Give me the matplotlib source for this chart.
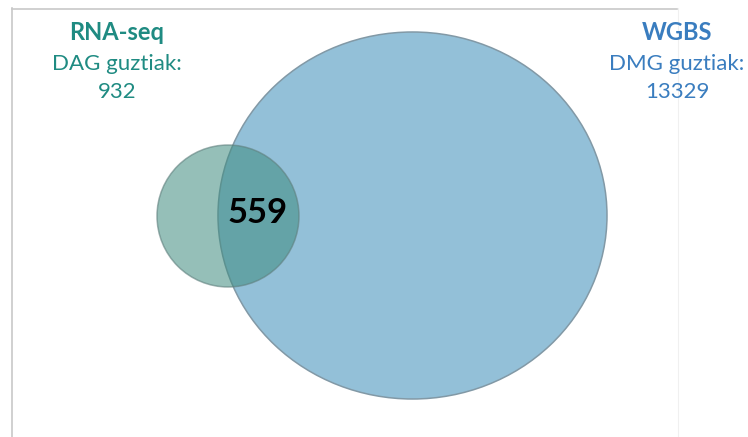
import matplotlib
matplotlib.use("Agg")
import matplotlib.pyplot as plt
from matplotlib.patches import Ellipse

# set labels and counts
set_titles = ["RNA-seq", "WGBS"]
set_subtitles = ["DAG guztiak:", "DMG guztiak:"]
set_totals = [932, 13329]
overlap_count = 559

plt.rcParams['font.family'] = ['Lato', 'DejaVu Sans']

fig = plt.figure(figsize=(7.48, 4.37), dpi=100)
ax = fig.add_axes([0, 0, 1, 1])
ax.set_xlim(0, 748)
ax.set_ylim(437, 0)
ax.axis('off')

# frame lines (light gray)
ax.plot([12, 677], [8.5, 8.5], color='#c8c8c8', lw=1.2)
ax.plot([12.5, 12.5], [8, 437], color='#c8c8c8', lw=1.2)
ax.plot([678, 678], [8, 437], color='#f0f0f0', lw=0.8)

# big circle (WGBS) and small circle (RNA-seq)
big = Ellipse((412.5, 215.5), 389, 367, facecolor='#93c0d8', edgecolor='#8299a6', lw=1.1, zorder=2)
ax.add_patch(big)
small = Ellipse((228, 216), 142, 142, facecolor='#3e8c7f', alpha=0.55, edgecolor='none', zorder=3)
ax.add_patch(small)
small_edge = Ellipse((228, 216), 142, 142, facecolor='none', edgecolor='#5f7f7d', alpha=0.6, lw=1.1, zorder=4)
ax.add_patch(small_edge)

ax.text(258, 213, str(overlap_count), ha='center', va='center', fontsize=25,
        fontweight='bold', color='black', zorder=5)

colors = ['#1f8b82', '#3a7dbf']
xs = [117, 677]
for x, t, s, n, c in zip(xs, set_titles, set_subtitles, set_totals, colors):
    ax.text(x, 33, t, ha='center', va='center', fontsize=17, fontweight='bold', color=c)
    ax.text(x, 64, s, ha='center', va='center', fontsize=16, color=c)
    ax.text(x, 92, str(n), ha='center', va='center', fontsize=16, color=c)

fig.savefig('out.png', dpi=100)
